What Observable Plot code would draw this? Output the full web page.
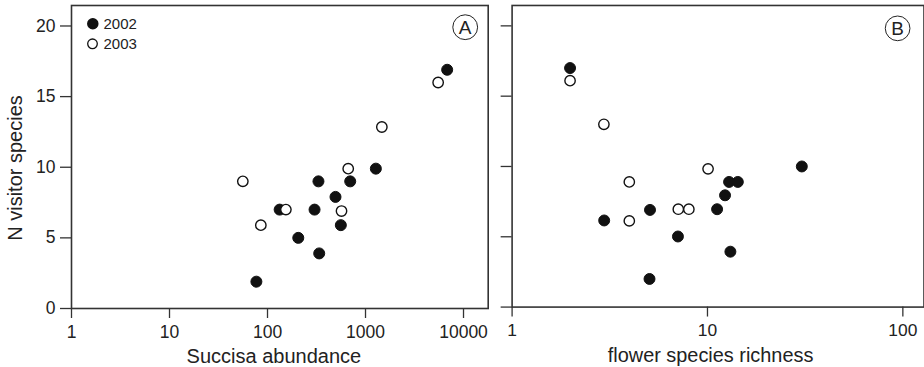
<!DOCTYPE html>
<html>
<head>
<meta charset="utf-8">
<script src="https://cdn.jsdelivr.net/npm/d3@7"></script>
<script src="https://cdn.jsdelivr.net/npm/@observablehq/plot@0.6"></script>
<style>
  html, body { margin: 0; padding: 0; background: #fff; }
  #wrap { display: flex; width: 924px; height: 367px; overflow: hidden; }
  #pa { width: 490px; height: 367px; overflow: hidden; }
  #pb { width: 434px; height: 367px; overflow: hidden; }
  svg { display: block; }
</style>
</head>
<body>
<div id="wrap"><div id="pa"></div><div id="pb"></div></div>
<script>
// ---- data ----
const years = ["2002", "2003"];
// Panel A: Succisa abundance vs N visitor species
const a2002x = [6810, 1275, 331, 698, 494, 133, 302, 560, 206, 337, 77];
const a2002y = [16.9, 9.9, 9, 9, 7.9, 7, 7, 5.9, 5, 3.9, 1.9];
const a2003x = [5510, 1468, 666, 56, 154, 569, 85.5];
const a2003y = [16, 12.85, 9.9, 9, 7, 6.9, 5.9];
// Panel B: flower species richness vs N visitor species
const b2002x = [1.98, 30.4, 12.9, 14.3, 12.3, 11.2, 5.08, 2.96, 7.06, 13.1, 5.05];
const b2002y = [17, 10, 8.9, 8.9, 7.95, 6.96, 6.91, 6.16, 5.02, 3.94, 2.0];
const b2003x = [1.98, 2.95, 10.07, 3.98, 7.09, 8.03, 3.98];
const b2003y = [16.1, 13.0, 9.83, 8.9, 6.96, 6.96, 6.13];
// ticks
const yTicks = [0, 5, 10, 15, 20];
const aXTicks = [1, 10, 100, 1000, 10000];
const bXTicks = [1, 10, 100];
const yDomain = [0, 21.45];
const aXDomain = [1, 17860];
const bXDomain = [1, 128.3];
const yLabel = "N visitor species";
const aXLabel = "Succisa abundance";
const bXLabel = "flower species richness";
const panelTags = ["A", "B"];

const rows = (xs, ys) => xs.map((x, i) => ({x, y: ys[i]}));
const INK = "#222";
const FRAME = "#333";
const font = "'Liberation Sans', Arial, Helvetica, sans-serif";

function tag(letter, dx, dy) {
  return [
    Plot.dot([letter], {frameAnchor: "top-right", dx, dy, r: 12.4, stroke: INK, strokeWidth: 1, fill: "white"}),
    Plot.text([letter], {frameAnchor: "top-right", dx, dy: dy + 0.5, text: d => d, fontSize: 19, fill: INK, textAnchor: "middle", lineAnchor: "middle"})
  ];
}

function dots(d2, d3) {
  return [
    Plot.dot(d2, {x: "x", y: "y", r: 5.5, fill: "#111", stroke: "#111", strokeWidth: 1}),
    Plot.dot(d3, {x: "x", y: "y", r: 5.2, fill: "white", stroke: "#111", strokeWidth: 1.4})
  ];
}

const A = Plot.plot({
  width: 490, height: 367,
  marginLeft: 71, marginRight: 2.3, marginTop: 5, marginBottom: 59,
  style: {fontFamily: font, fontSize: "17px", color: INK, background: "white", overflow: "visible"},
  x: {type: "log", domain: aXDomain, ticks: aXTicks, tickFormat: d => String(d), label: null},
  y: {domain: yDomain, ticks: yTicks, label: null},
  marks: [
    Plot.axisX({ticks: aXTicks, tickFormat: d => String(d), tickSize: 10, tickPadding: 7, stroke: FRAME, strokeWidth: 1.3, label: null, fontSize: 17.5}),
    Plot.axisY({ticks: yTicks, tickSize: 11, tickPadding: 5, stroke: FRAME, strokeWidth: 1.3, label: null, fontSize: 17.5}),
    Plot.frame({stroke: FRAME, strokeWidth: 1.6}),
    Plot.text([yLabel], {frameAnchor: "left", dx: -55.5, dy: 11, rotate: -90, text: d => d, fontSize: 20, fill: INK, textAnchor: "middle", lineAnchor: "middle"}),
    Plot.text([aXLabel], {frameAnchor: "bottom", dx: -6, dy: 48.3, text: d => d, fontSize: 20, fill: INK, textAnchor: "middle", lineAnchor: "middle"}),
    // legend
    Plot.dot([years[0]], {frameAnchor: "top-left", dx: 21.3, dy: 18.3, r: 5, fill: "#111", stroke: "#111"}),
    Plot.text([years[0]], {frameAnchor: "top-left", dx: 32, dy: 18.6, text: d => d, fontSize: 15, fill: INK, textAnchor: "start", lineAnchor: "middle"}),
    Plot.dot([years[1]], {frameAnchor: "top-left", dx: 21, dy: 38.3, r: 4.8, fill: "white", stroke: "#111", strokeWidth: 1.3}),
    Plot.text([years[1]], {frameAnchor: "top-left", dx: 32, dy: 38.6, text: d => d, fontSize: 15, fill: INK, textAnchor: "start", lineAnchor: "middle"}),
    ...tag(panelTags[0], -23, 21.7),
    ...dots(rows(a2002x, a2002y), rows(a2003x, a2003y))
  ]
});
document.getElementById("pa").appendChild(A);

const B = Plot.plot({
  width: 436, height: 367,
  marginLeft: 21.7, marginRight: 0.5, marginTop: 5, marginBottom: 59,
  style: {fontFamily: font, fontSize: "17px", color: INK, background: "white", overflow: "visible"},
  x: {type: "log", domain: bXDomain, ticks: bXTicks, tickFormat: d => String(d), label: null},
  y: {domain: yDomain, ticks: yTicks, label: null},
  marks: [
    Plot.axisX({ticks: bXTicks, tickFormat: d => String(d), tickSize: 10, tickPadding: 7, stroke: FRAME, strokeWidth: 1.3, label: null, fontSize: 17.5}),
    Plot.axisY({ticks: yTicks, tickSize: 11, tickFormat: () => "", stroke: FRAME, strokeWidth: 1.3, label: null}),
    Plot.frame({stroke: FRAME, strokeWidth: 1.6}),
    Plot.text([bXLabel], {frameAnchor: "bottom", dx: -7.5, dy: 48.3, text: d => d, fontSize: 20, fill: INK, textAnchor: "middle", lineAnchor: "middle"}),
    ...tag(panelTags[1], -26.5, 23),
    ...dots(rows(b2002x, b2002y), rows(b2003x, b2003y))
  ]
});
document.getElementById("pb").appendChild(B);
</script>
</body>
</html>
